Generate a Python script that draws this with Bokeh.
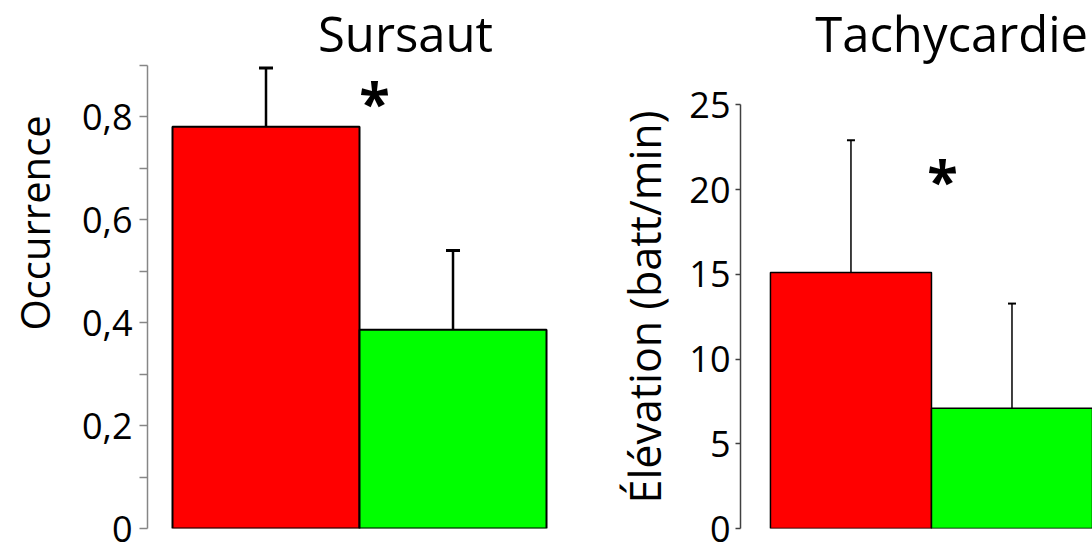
import numpy as np
from bokeh.plotting import figure
from bokeh.models import Range1d, FixedTicker, Label, Whisker, TeeHead, ColumnDataSource, Title
from bokeh.layouts import row
from bokeh.embed import file_html
from bokeh.resources import INLINE

# ---- data ----
groups = ["Condition 1", "Condition 2"]
bar_colors = ["#FF0000", "#00FF00"]

sursaut_mean = [0.78, 0.386]
sursaut_err = [0.114, 0.154]
sursaut_ticks = [0, 0.2, 0.4, 0.6, 0.8]
sursaut_minor = [0.1, 0.3, 0.5, 0.7, 0.9]
sursaut_tick_labels = ["0", "0,2", "0,4", "0,6", "0,8"]

tachy_mean = [15.1, 7.1]
tachy_err = [7.8, 6.17]
tachy_ticks = [0, 5, 10, 15, 20, 25]
tachy_tick_labels = ["0", "5", "10", "15", "20", "25"]

FONT = "Open Sans"
H = 543
SHIFT = 18  # left figure is pulled left by this many pixels


def panel(title, ylabel, means, errs, ticks, minor, tick_labels, ymax_axis,
          width, min_left, xr, yr, title_pos, label_offset, label_standoff, star_pos,
          axis_color, bar_lw, err_lw, cap, ytitle_size, tick_out, lab_standoff):
    p = figure(width=width, height=H, output_backend="svg", toolbar_location=None,
               x_range=Range1d(*xr), y_range=Range1d(*yr),
               min_border_left=min_left, min_border_right=0,
               min_border_top=0, min_border_bottom=15)
    p.title.visible = False
    p.outline_line_color = None
    p.xgrid.visible = False
    p.ygrid.visible = False
    p.xaxis.visible = False
    p.background_fill_color = "white"
    p.border_fill_color = "white"

    x = np.arange(len(groups)) + 0.5
    src = ColumnDataSource(dict(x=x, top=means, color=bar_colors,
                                upper=np.array(means) + np.array(errs),
                                lower=means))
    p.vbar(x="x", top="top", bottom=0, width=1.0, fill_color="color",
           line_color="black", line_width=bar_lw, source=src)
    p.add_layout(Whisker(source=src, base="x", upper="upper", lower="lower",
                         dimension="height", line_color="black", line_width=err_lw,
                         upper_head=TeeHead(size=cap, line_color="black", line_width=err_lw + 0.5),
                         lower_head=None))

    ax = p.yaxis[0]
    ax.ticker = FixedTicker(ticks=ticks, minor_ticks=minor)
    ax.major_label_overrides = {t: l for t, l in zip(ticks, tick_labels)}
    ax.bounds = (0, ymax_axis)
    ax.axis_line_color = axis_color
    ax.axis_line_width = 1.5
    ax.major_tick_line_color = axis_color
    ax.minor_tick_line_color = axis_color
    ax.major_tick_line_width = 1.5
    ax.minor_tick_line_width = 1.5
    ax.major_tick_in = 0
    ax.major_tick_out = tick_out
    ax.minor_tick_in = 0
    ax.minor_tick_out = tick_out
    ax.major_label_text_font = FONT
    ax.major_label_text_font_size = "36px"
    ax.major_label_text_color = "black"
    ax.major_label_standoff = lab_standoff

    p.add_layout(Title(text=ylabel, align="left", offset=label_offset,
                       standoff=label_standoff, text_font=FONT,
                       text_font_size=ytitle_size, text_font_style="normal",
                       text_color="black"), "left")

    p.add_layout(Label(x=title_pos[0], y=title_pos[1], text=title, text_font=FONT,
                       text_font_size="49px", text_align="center",
                       text_baseline="alphabetic", text_color="black"))
    p.add_layout(Label(x=star_pos[0], y=star_pos[1], text="*", text_font=FONT,
                       text_font_style="bold", text_font_size="56px", text_align="center",
                       text_baseline="alphabetic", text_color="black"))
    return p


p1 = panel("Sursaut", "Occurrence", sursaut_mean, sursaut_err,
           sursaut_ticks, sursaut_minor, sursaut_tick_labels, 0.9,
           width=575 + SHIFT, min_left=147 + SHIFT, xr=(-0.1337, 2.155), yr=(0, 528 / 515),
           title_pos=(1.246, 0.963), label_offset=198, label_standoff=36,
           star_pos=(1.080, 0.831),
           axis_color="#868686", bar_lw=2, err_lw=2.5, cap=14, ytitle_size="40px",
           tick_out=8, lab_standoff=7)
p1.styles = {"margin-left": f"-{SHIFT}px"}

p2 = panel("Tachycardie", "Élévation (batt/min)", tachy_mean, tachy_err,
           tachy_ticks, [], tachy_tick_labels, 25,
           width=517, min_left=165, xr=(-0.186, 2.0), yr=(0, 528 / 16.95),
           title_pos=(1.125, 29.26), label_offset=25, label_standoff=26,
           star_pos=(1.069, 20.59),
           axis_color="#404040", bar_lw=1.5, err_lw=1.5, cap=8, ytitle_size="43px",
           tick_out=5, lab_standoff=5)

layout = row(p1, p2, spacing=0)
open("out.html", "w").write(file_html(layout, INLINE))
